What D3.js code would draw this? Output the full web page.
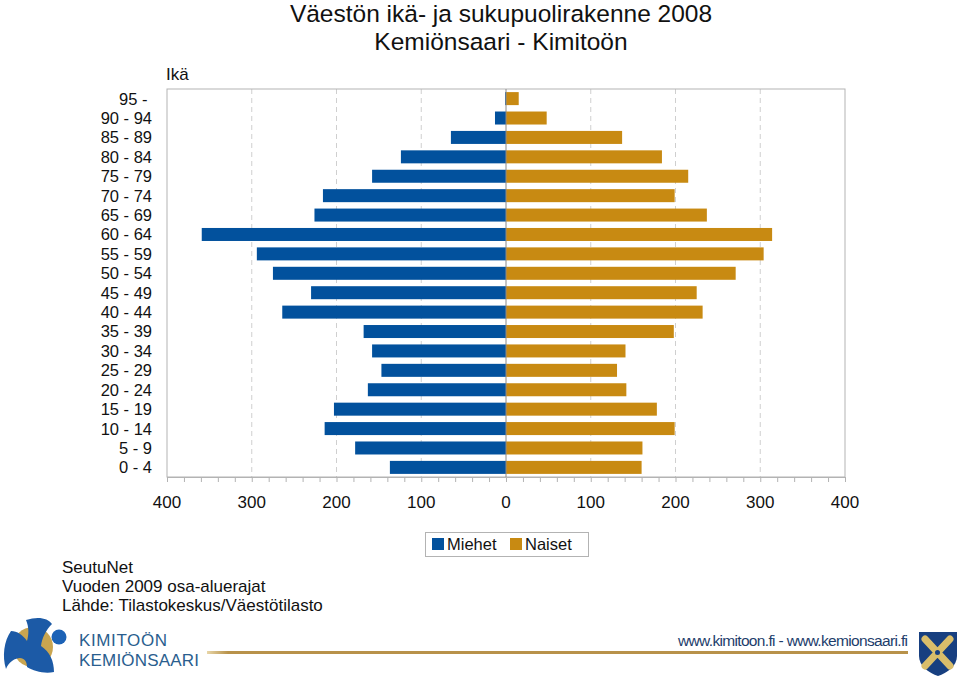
<!DOCTYPE html>
<html><head><meta charset="utf-8">
<script src="https://cdn.jsdelivr.net/npm/d3@7"></script>
<style>body{margin:0;background:#fff}svg{display:block;font-family:"Liberation Sans",Arial,sans-serif}</style>
</head><body>
<svg id="c" width="960" height="676"></svg>
<script>
const ageGroups = ["95 -\u00a0","90 - 94","85 - 89","80 - 84","75 - 79","70 - 74","65 - 69","60 - 64","55 - 59","50 - 54","45 - 49","40 - 44","35 - 39","30 - 34","25 - 29","20 - 24","15 - 19","10 - 14","5 - 9","0 - 4"];
const miehet = [1,13,65,124,158,216,226,359,294,275,230,264,168,158,147,163,203,214,178,137];
const naiset = [15,48,137,184,215,199,237,314,304,271,225,232,198,141,131,142,178,199,161,160];
const xTicks = [-400,-300,-200,-100,0,100,200,300,400];
const gridTicks = [-300,-200,-100,100,200,300];
const seriesNames = ["Miehet","Naiset"];
const titleLines = ["Väestön ikä- ja sukupuolirakenne 2008","Kemiönsaari - Kimitoön"];
const sourceLines = ["SeutuNet","Vuoden 2009 osa-aluerajat","Lähde: Tilastokeskus/Väestötilasto"];

const BLUE="#02519d", GOLD="#c88a12";
const svg=d3.select("#c");
const L=167,R=845,T=89,B=477;
const x=d3.scaleLinear().domain([-400,400]).range([L,R]);
const y=d3.scaleBand().domain(ageGroups).range([T,B]).paddingInner(0.33).paddingOuter(0.16);

// title
svg.append("g").selectAll("text").data(titleLines).join("text")
  .attr("x",501).attr("y",(d,i)=>22+i*27.5).attr("text-anchor","middle")
  .attr("font-size",24.5).attr("fill","#111").text(d=>d);

svg.append("text").attr("x",166).attr("y",80).attr("font-size",17).attr("fill","#111").text("Ikä");

// grid
svg.append("g").selectAll("line").data(gridTicks).join("line")
  .attr("x1",d=>x(d)).attr("x2",d=>x(d)).attr("y1",T).attr("y2",B)
  .attr("stroke","#cfcfcf").attr("stroke-dasharray","5,4");

// frame
svg.append("rect").attr("x",L).attr("y",T).attr("width",R-L).attr("height",B-T)
  .attr("fill","none").attr("stroke","#b3b3b3");

// bars
svg.append("g").selectAll("rect").data(ageGroups).join("rect")
  .attr("x",(d,i)=>x(-miehet[i])).attr("width",(d,i)=>x(0)-x(-miehet[i]))
  .attr("y",d=>y(d)).attr("height",y.bandwidth()).attr("fill",BLUE);
svg.append("g").selectAll("rect").data(ageGroups).join("rect")
  .attr("x",x(0)).attr("width",(d,i)=>x(naiset[i])-x(0))
  .attr("y",d=>y(d)).attr("height",y.bandwidth()).attr("fill",GOLD);

// zero line
svg.append("line").attr("x1",x(0)).attr("x2",x(0)).attr("y1",T).attr("y2",B).attr("stroke","#8a8a8a");

// y labels
svg.append("g").selectAll("text").data(ageGroups).join("text")
  .attr("x",152).attr("y",d=>y(d)+y.bandwidth()/2).attr("dy","0.36em")
  .attr("text-anchor","end").attr("font-size",16.5).attr("fill","#111").text(d=>d);

// x axis
const xa=svg.append("g").attr("transform",`translate(0,${B})`)
  .call(d3.axisBottom(x).tickValues(d3.range(-400,401,20)).tickSize(5).tickFormat(""));
xa.select(".domain").attr("stroke","#b3b3b3");
xa.selectAll(".tick line").attr("stroke","#b3b3b3");
svg.append("g").selectAll("text").data(xTicks).join("text")
  .attr("x",d=>x(d)).attr("y",508).attr("text-anchor","middle").attr("font-size",17).attr("fill","#111")
  .text(d=>Math.abs(d));

// legend
const lg=svg.append("g");
lg.append("rect").attr("x",425.5).attr("y",532.5).attr("width",163).attr("height",24).attr("fill","#fff").attr("stroke","#b3b3b3");
const lx=[432,510];
seriesNames.forEach((n,i)=>{
  lg.append("rect").attr("x",lx[i]).attr("y",538).attr("width",12).attr("height",12).attr("fill",i?GOLD:BLUE);
  lg.append("text").attr("x",lx[i]+15).attr("y",550).attr("font-size",16.5).attr("fill","#111").text(n);
});

// source
svg.append("g").selectAll("text").data(sourceLines).join("text")
  .attr("x",62).attr("y",(d,i)=>573+i*19).attr("font-size",17).attr("fill","#111").text(d=>d);

// footer logo
const lo=svg.append("g");
lo.append("circle").attr("cx",33).attr("cy",647).attr("r",20).attr("fill","#c9a550");
lo.append("path").attr("d","M26,620 C38,616 48,618 52,624 C46,630 42,638 41,646 C50,652 54,661 54,672 C44,674 34,671 27,667 C27,659 21,655 12,661 C9,663 7,666 6,669 C2,656 4,641 11,631 C17,631 23,635 27,641 C29,634 29,627 26,620 Z").attr("fill","#1c5aa6");
lo.append("circle").attr("cx",59).attr("cy",637).attr("r",7.5).attr("fill","#1c62b6");
lo.append("text").attr("x",79).attr("y",646).attr("font-size",17).attr("textLength",88).attr("fill","#2a5e8e").text("KIMITOÖN");
lo.append("text").attr("x",79).attr("y",666).attr("font-size",17).attr("textLength",120).attr("fill","#2a5e8e").text("KEMIÖNSAARI");
const grad=svg.append("defs").append("linearGradient").attr("id","gl");
grad.append("stop").attr("offset","0").attr("stop-color","#e8d6a8");
grad.append("stop").attr("offset","0.03").attr("stop-color","#b8924a");
grad.append("stop").attr("offset","1").attr("stop-color","#b8924a");
lo.append("rect").attr("x",207).attr("y",651).attr("width",701).attr("height",3).attr("fill","url(#gl)");
lo.append("text").attr("x",908).attr("y",646).attr("text-anchor","end").attr("font-size",15.5)
  .attr("textLength",230).attr("fill","#1d3d6b").text("www.kimitoon.fi - www.kemionsaari.fi");
lo.append("path").attr("d","M919,632 L957,632 L957,656 C957,666 947,673 938,676 C929,673 919,666 919,656 Z").attr("fill","#173f80");
lo.append("path").attr("d","M925,639 L950,666 M950,639 L925,666").attr("stroke","#d9bd6a").attr("stroke-width",7).attr("stroke-linecap","round");
lo.append("circle").attr("cx",937.5).attr("cy",652.5).attr("r",3.5).attr("fill","#173f80").attr("stroke","#d9bd6a").attr("stroke-width",2);
</script>
</body></html>
